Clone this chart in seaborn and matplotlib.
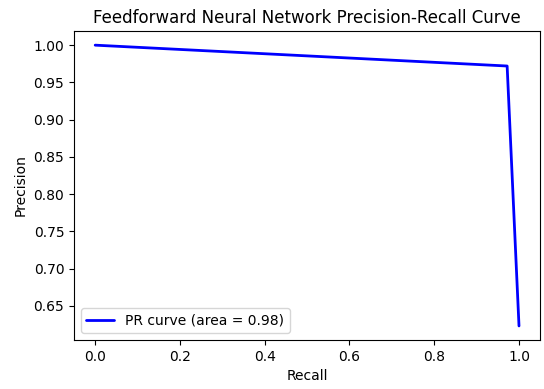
import matplotlib
matplotlib.use("Agg")
import matplotlib.pyplot as plt
import seaborn as sns
import pandas as pd

recall = [0.0, 0.972, 1.0]
precision = [1.0, 0.972, 0.623]
area = 0.98

sns.set_style("ticks")
plt.rcParams['font.family'] = ['DejaVu Sans']
plt.rcParams.update({"text.color": "black", "axes.labelcolor": "black",
                     "xtick.color": "black", "ytick.color": "black"})

fig = plt.figure(figsize=(5.44, 3.89), dpi=100)
ax = fig.add_axes([0.136, 0.126, 0.857, 0.794])
df = pd.DataFrame({"Recall": recall, "Precision": precision})
sns.lineplot(data=df, x="Recall", y="Precision", color="blue", lw=2, ax=ax,
             sort=False, label=f"PR curve (area = {area:.2f})")
ax.set_title("Feedforward Neural Network Precision-Recall Curve")
ax.set_xlabel("Recall")
ax.set_ylabel("Precision")
ax.legend(loc="lower left")
for s in ax.spines.values():
    s.set_visible(True)
    s.set_color("black")
fig.savefig("out.png", dpi=100)
